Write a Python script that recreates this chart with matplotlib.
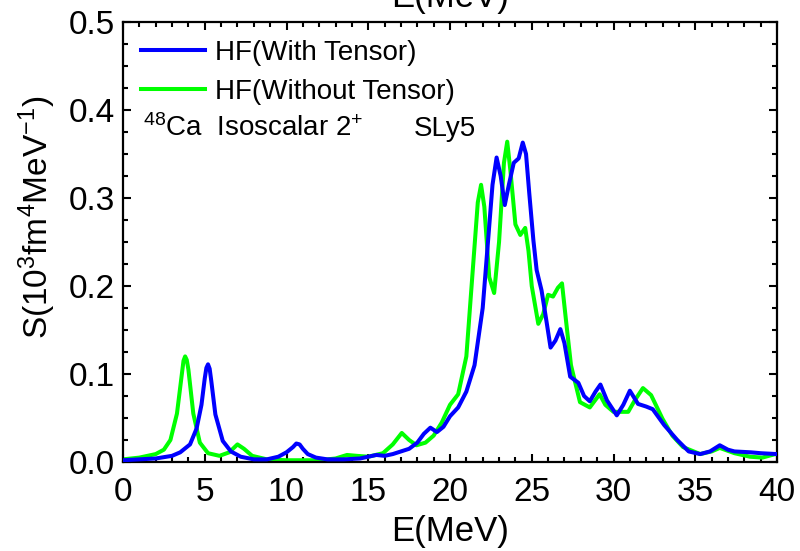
import matplotlib
matplotlib.use("Agg")
import matplotlib.pyplot as plt
from matplotlib.ticker import MultipleLocator

plt.rcParams["font.family"] = ["Liberation Sans", "DejaVu Sans"]
plt.rcParams["mathtext.fontset"] = "custom"
plt.rcParams["mathtext.rm"] = "Liberation Sans"
plt.rcParams["mathtext.default"] = "regular"

# HF with tensor (blue)
e_with = [0, 1, 2, 3, 3.5, 4.1, 4.5, 4.8, 5.0, 5.1, 5.2, 5.3, 5.4, 5.65, 6.1, 6.6,
          7.2, 8.0, 8.8, 9.5, 10.0, 10.4, 10.6, 10.8, 11.0, 11.3, 11.8, 12.5, 13.5,
          14.5, 15.0, 15.5, 16.0, 16.5, 17.0, 17.5, 18.0, 18.4, 18.8, 19.2, 19.6,
          20.0, 20.5, 21.0, 21.5, 22.0, 22.3, 22.6, 22.85, 23.1, 23.35, 23.6, 23.9,
          24.2, 24.45, 24.65, 24.85, 25.1, 25.3, 25.6, 25.9, 26.15, 26.45, 26.75,
          27.0, 27.35, 27.85, 28.2, 28.55, 28.9, 29.2, 29.6, 30.2, 30.6, 31.0,
          31.5, 32.0, 32.4, 33.1, 33.9, 34.6, 35.3, 35.9, 36.5, 37.0, 37.4, 38.4,
          39.0, 40.0]
s_with = [0.002, 0.003, 0.004, 0.007, 0.011, 0.02, 0.038, 0.065, 0.095, 0.107,
          0.111, 0.106, 0.092, 0.054, 0.024, 0.012, 0.006, 0.003, 0.003, 0.006,
          0.011, 0.017, 0.021, 0.02, 0.015, 0.009, 0.005, 0.003, 0.003, 0.004,
          0.006, 0.008, 0.007, 0.009, 0.012, 0.015, 0.022, 0.032, 0.039, 0.034,
          0.04, 0.052, 0.062, 0.08, 0.11, 0.175, 0.245, 0.315, 0.346, 0.325,
          0.292, 0.315, 0.34, 0.345, 0.363, 0.35, 0.305, 0.252, 0.218, 0.195,
          0.16, 0.13, 0.138, 0.151, 0.135, 0.097, 0.09, 0.075, 0.069, 0.08,
          0.088, 0.07, 0.053, 0.065, 0.081, 0.066, 0.063, 0.06, 0.042, 0.025,
          0.012, 0.009, 0.012, 0.019, 0.014, 0.012, 0.011, 0.01, 0.009]

# HF without tensor (green)
e_without = [0, 1, 2, 2.5, 2.9, 3.3, 3.6, 3.7, 3.8, 3.9, 4.0, 4.3, 4.7, 5.2, 5.9,
             6.5, 7.0, 7.4, 7.9, 8.8, 10, 12, 13.0, 13.7, 14.3, 15.0, 15.9, 16.5,
             17.05, 17.5, 17.95, 18.5, 19.0, 19.5, 20.0, 20.5, 21.0, 21.4, 21.7,
             21.9, 22.1, 22.4, 22.7, 23.0, 23.3, 23.5, 23.7, 24.0, 24.3, 24.6,
             24.8, 25.0, 25.4, 25.7, 26.0, 26.3, 26.6, 26.85, 27.1, 27.4, 27.95,
             28.55, 29.15, 29.5, 30.0, 30.9, 31.3, 31.8, 32.3, 33.0, 33.6, 34.25,
             35.3, 36.0, 36.5, 37.4, 38.35, 39.1, 39.9, 40.0]
s_without = [0.003, 0.005, 0.009, 0.014, 0.025, 0.055, 0.1, 0.115, 0.12, 0.116,
             0.105, 0.055, 0.022, 0.01, 0.007, 0.011, 0.02, 0.015, 0.007, 0.003,
             0.002, 0.002, 0.004, 0.008, 0.007, 0.006, 0.01, 0.02, 0.033, 0.025,
             0.019, 0.022, 0.03, 0.045, 0.065, 0.077, 0.12, 0.22, 0.295, 0.315,
             0.29, 0.21, 0.192, 0.25, 0.34, 0.364, 0.33, 0.27, 0.258, 0.266, 0.24,
             0.2, 0.157, 0.168, 0.19, 0.188, 0.198, 0.203, 0.16, 0.11, 0.068,
             0.062, 0.077, 0.065, 0.057, 0.057, 0.07, 0.084, 0.076, 0.049, 0.03,
             0.017, 0.009, 0.012, 0.016, 0.01, 0.006, 0.005, 0.009, 0.009]

fig = plt.figure(figsize=(8, 5.51), dpi=100)
ax = fig.add_axes([123 / 800, 1 - 462 / 551, 654 / 800, 440 / 551])

ax.plot(e_with, s_with, color="#0000ff", lw=2.9, label="HF(With Tensor)", zorder=3)
ax.plot(e_without, s_without, color="#00ff00", lw=2.9, label="HF(Without Tensor)", zorder=2)

ax.set_xlim(0, 40)
ax.set_ylim(0, 0.5)
ax.xaxis.set_major_locator(MultipleLocator(5))
ax.xaxis.set_minor_locator(MultipleLocator(1))
ax.yaxis.set_major_locator(MultipleLocator(0.1))
ax.yaxis.set_minor_locator(MultipleLocator(0.025))
ax.yaxis.set_major_formatter(plt.FormatStrFormatter("%.1f"))
ax.tick_params(which="both", direction="in", top=True, right=True, width=1.5, labelsize=24)
ax.tick_params(which="major", length=6)
ax.tick_params(which="minor", length=3.5)
ax.tick_params(axis="y", pad=6)
ax.tick_params(axis="x", pad=11)
for sp in ax.spines.values():
    sp.set_linewidth(1.6)

ax.set_xlabel("E(MeV)", fontsize=25, labelpad=5)
ax.set_ylabel(r"S(10$^3$fm$^4$MeV$^{-1}$)", fontsize=24)
ax.yaxis.set_label_coords(-0.1, 0.557)
ax.annotate("E(MeV)", xy=(0.5, 1), xycoords="axes fraction", xytext=(0, 6),
            textcoords="offset points", ha="center", va="bottom", fontsize=25)

ax.legend(loc="upper left", frameon=False, fontsize=20, handlelength=2.3,
          handletextpad=0.35, labelspacing=0.45, borderaxespad=0.25,
          bbox_to_anchor=(0.0, 1.0))

ax.text(0.03, 0.741, r"$^{48}$Ca  Isoscalar 2$^{+}$", transform=ax.transAxes,
        fontsize=20, ha="left", va="baseline")
ax.text(0.444, 0.741, "SLy5", transform=ax.transAxes, fontsize=20, ha="left", va="baseline")

fig.savefig("out.png", dpi=100)
